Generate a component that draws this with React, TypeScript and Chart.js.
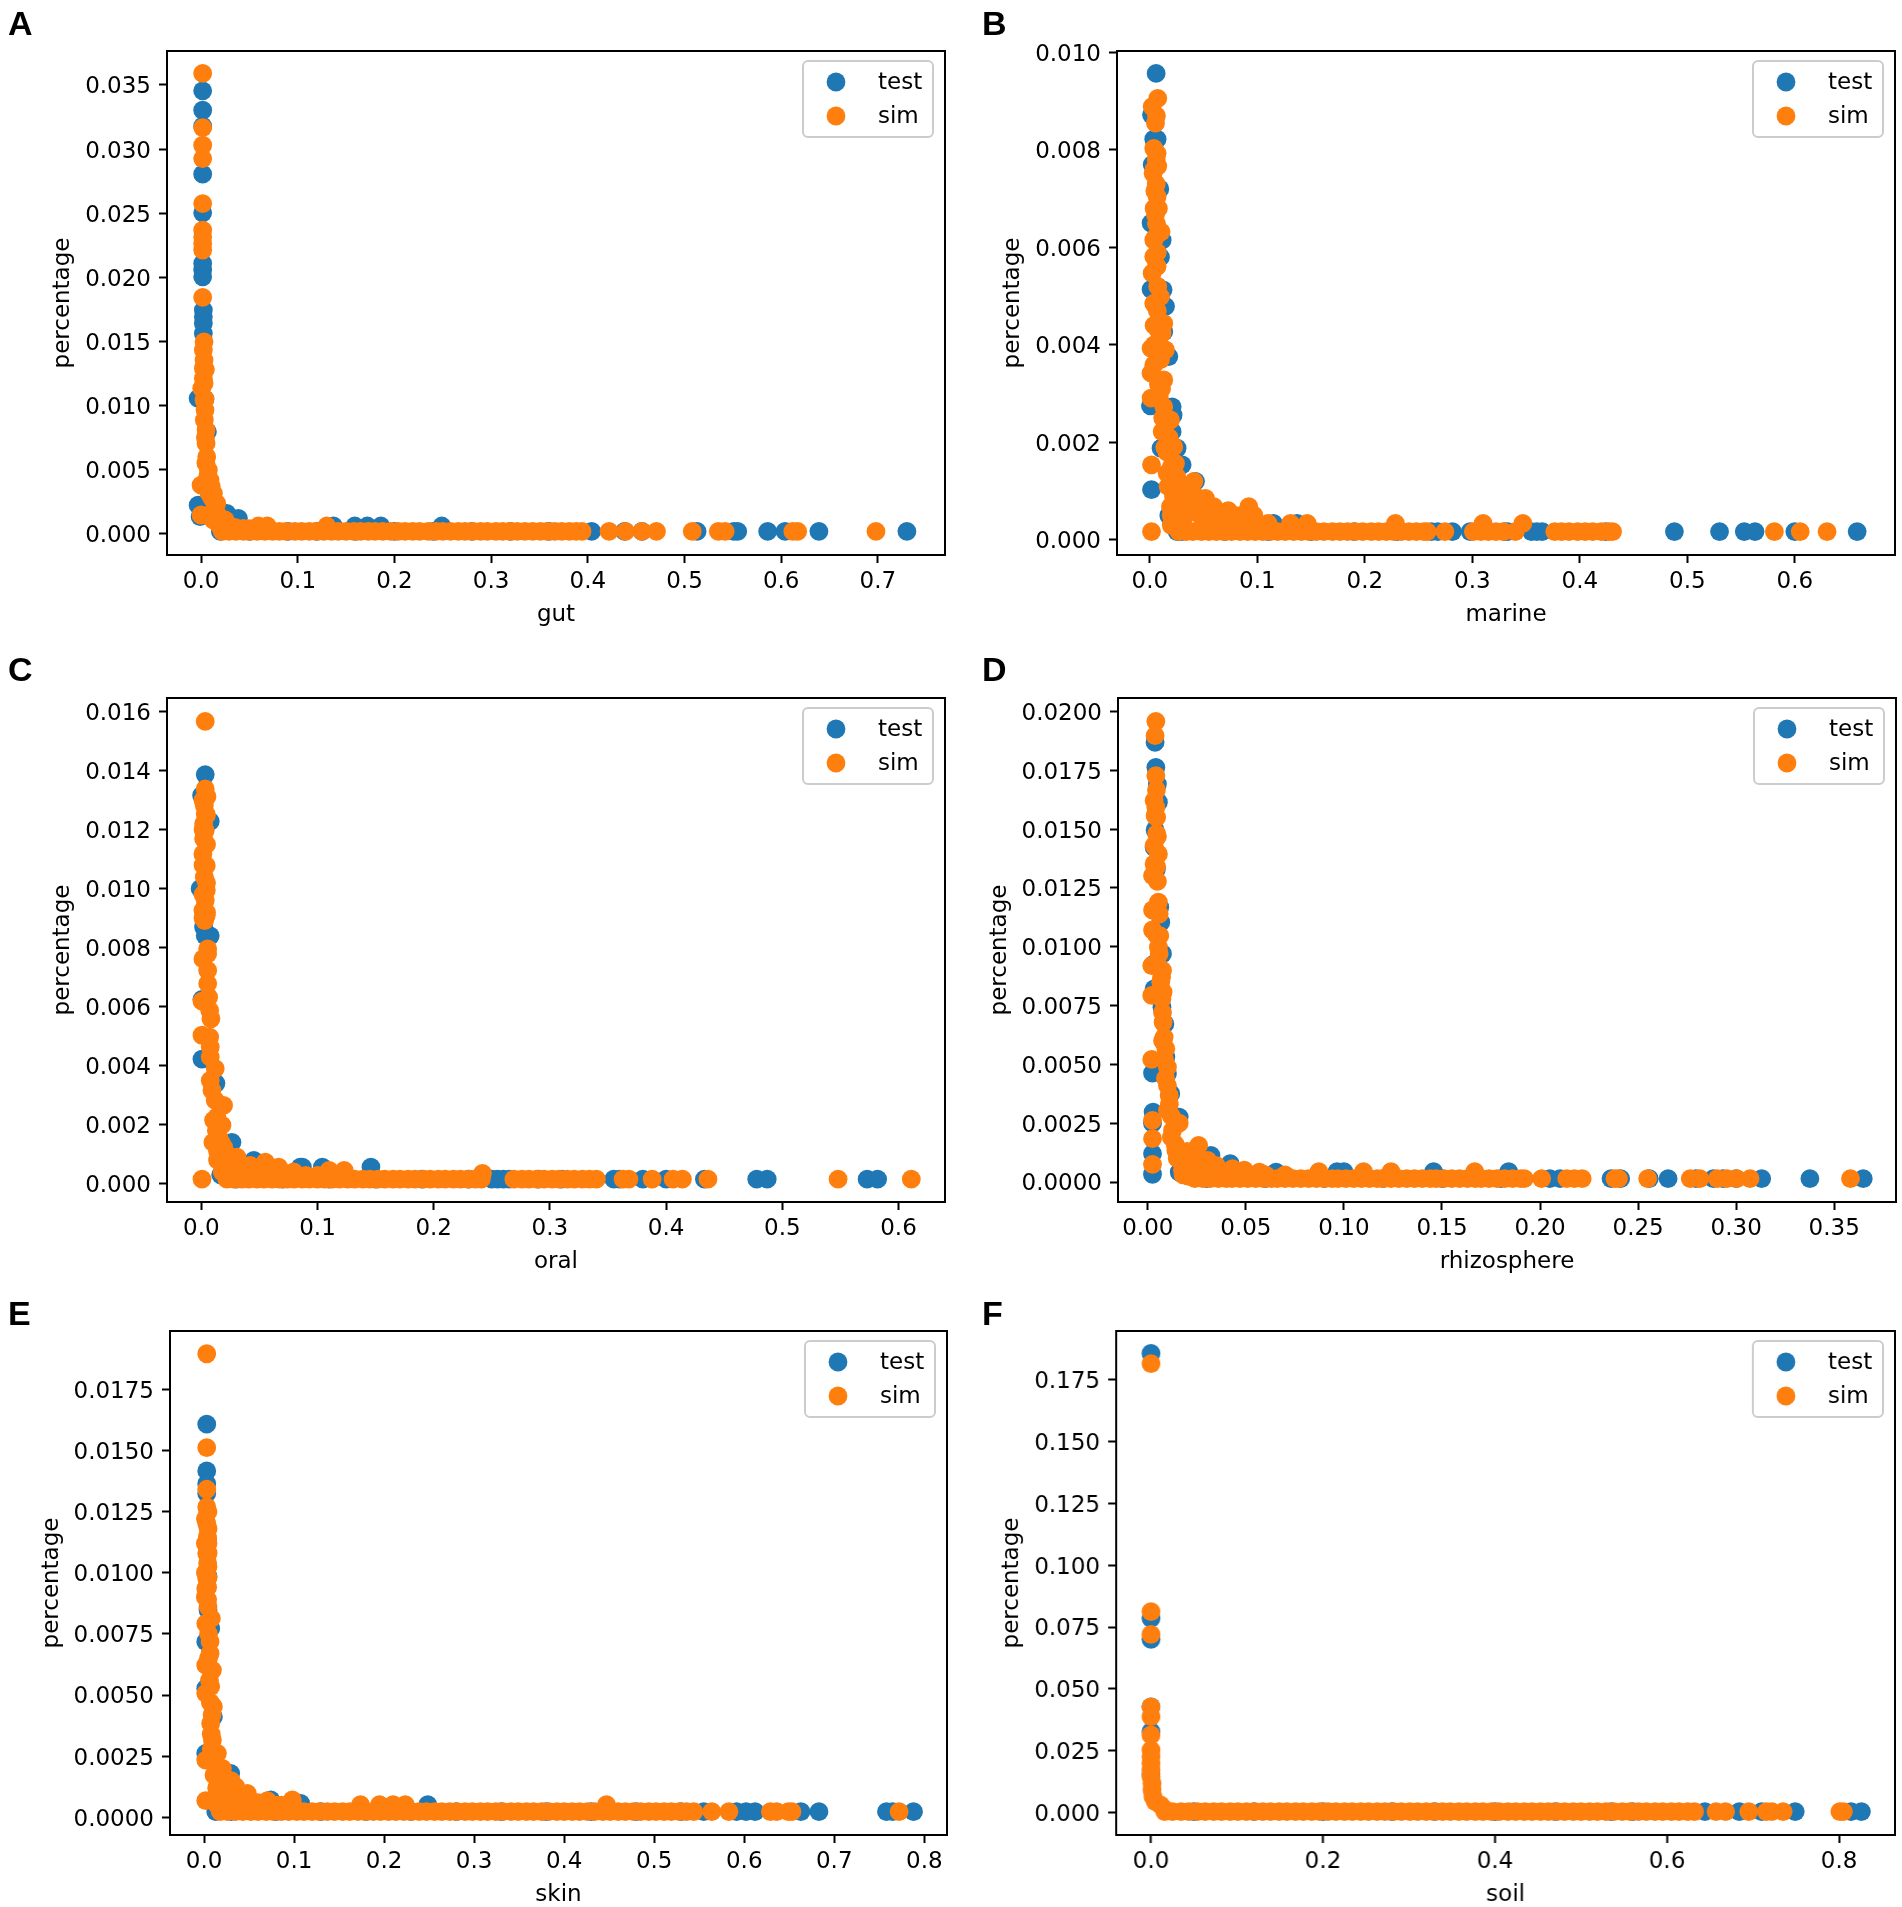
import { useEffect, useRef } from 'react'
import { Chart, registerables } from 'chart.js'

Chart.register(...registerables)

type Pt = [number, number]

const gutTest: Pt[] = [[0.0017,0.03454],[0.0017,0.03303],[0.0017,0.03178],[0.0017,0.02804],[0.0017,0.02503],[0.0017,0.02108],[0.0017,0.02056],[0.0017,0.02004],[0.0024,0.01744],[0.0024,0.01692],[0.0024,0.0164],[0.0024,0.01562],[-0.003,0.01055],[0.0041,0.0105],[0.0066,0.00795],[-0.003,0.00223],[-0.001,0.00133],[0.0266,0.00159],[0.0386,0.0012],[0.137,0.0006],[0.159,0.0006],[0.172,0.0006],[0.186,0.0006],[0.249,0.0006]]
const gutSim: Pt[] = [[0.0017,0.0359],[0.0017,0.03168],[0.0017,0.0303],[0.0017,0.02926],[0.0017,0.02575],[0.0017,0.02367],[0.0017,0.02315],[0.0017,0.02263],[0.0017,0.02212],[0.0017,0.01843],[0.0031,0.01497],[0.0024,0.01432],[0.0031,0.01354],[0.0024,0.01289],[0.0024,0.01211],[0.0007,0.01133],[0.0031,0.01172],[0.0031,0.01042],[0.0041,0.00964],[0.0034,0.00886],[0.0052,0.00808],[0.0052,0.00704],[0.0059,0.006],[0.0076,0.00496],[0.0093,0.00418],[0,0.00379],[0.0128,0.00314],[0.0162,0.00236],[0,0.00146],[0.0162,0.00159],[0.0128,0.00107],[0.0248,0.00107],[0.0197,0.00055],[0.0593,0.0006],[0.0686,0.0006],[0.13,0.0006],[0.0438,0.00042],[0.008,0.0032],[0.011,0.0028],[0.014,0.0019],[0.018,0.0013],[0.022,0.0008],[0.028,0.0007],[0.035,0.0005],[0.05,0.0004],[0.0045,0.0128],[0.004,0.0105],[0.0045,0.0075],[0.005,0.0055],[0.007,0.0045],[0.0105,0.0037],[0.015,0.0012],[0.012,0.0016]]
const gutTestFloor = [0.02,0.05,0.09,0.12,0.16,0.2,0.24,0.28,0.32,0.36,0.404,0.438,0.456,0.513,0.551,0.555,0.586,0.604,0.639,0.73]
const gutSimFloor = [0.022,0.029,0.036,0.044,0.051,0.058,0.066,0.074,0.081,0.088,0.097,0.104,0.112,0.119,0.127,0.135,0.142,0.15,0.158,0.165,0.173,0.18,0.188,0.196,0.204,0.211,0.219,0.226,0.235,0.243,0.25,0.258,0.266,0.273,0.281,0.289,0.296,0.305,0.312,0.32,0.327,0.335,0.343,0.351,0.358,0.366,0.373,0.381,0.388,0.394,0.422,0.439,0.456,0.471,0.508,0.535,0.542,0.612,0.617,0.698]

// B - marine
const marineTest: Pt[] = [[0.0059,0.00957],[0.0016,0.00872],[0.0037,0.00822],[0.0068,0.00822],[0.0022,0.0077],[0.0093,0.0072],[0.0012,0.0065],[0.0115,0.00615],[0.0099,0.0058],[0.0124,0.00513],[0.0012,0.00514],[0.0146,0.00479],[0.013,0.00427],[0.0177,0.00376],[0.0006,0.00275],[0.0208,0.00273],[0.0217,0.00256],[0.0208,0.00222],[0.0254,0.00188],[0.0105,0.00188],[0.0301,0.00154],[0.0016,0.00103],[0.0425,0.0012],[0.0177,0.0005],[0.0254,0.00017],[0.075,0.0005],[0.115,0.00034],[0.137,0.00034]]
const marineSim: Pt[] = [[0.0074,0.00906],[0.0022,0.00889],[0.0062,0.0087],[0.0053,0.00855],[0.0037,0.00803],[0.0068,0.00793],[0.0074,0.00767],[0.0031,0.00752],[0.0047,0.00716],[0.0068,0.00704],[0.0053,0.00667],[0.0062,0.00649],[0.0105,0.00632],[0.0037,0.00615],[0.0037,0.00581],[0.0068,0.00561],[0.0022,0.00547],[0.0074,0.0052],[0.0099,0.00499],[0.0037,0.00485],[0.013,0.00444],[0.0115,0.00424],[0.0012,0.00393],[0.0146,0.0039],[0.0037,0.00359],[0.0012,0.00342],[0.013,0.00328],[0.0012,0.00291],[0.013,0.00273],[0.0192,0.00246],[0.0115,0.00222],[0.0223,0.00191],[0.0016,0.00154],[0.0239,0.00157],[0.0161,0.00137],[0.041,0.0012],[0.0518,0.00085],[0.0595,0.00068],[0.0921,0.00068],[0.0192,0.00068],[0.0016,0.00017],[0.0208,0.00034],[0.0967,0.00051],[0.1309,0.00034],[0.1464,0.00034],[0.2285,0.00034],[0.031,0.00051],[0.047,0.00051],[0.062,0.00051],[0.078,0.00051],[0.31,0.00034],[0.347,0.00034],[0.016,0.0018],[0.02,0.0015],[0.025,0.0013],[0.03,0.0011],[0.017,0.0011],[0.022,0.0009],[0.028,0.0008],[0.035,0.0008],[0.042,0.0009],[0.048,0.0007],[0.02,0.0005],[0.026,0.0005],[0.033,0.0005],[0.04,0.0006],[0.055,0.0005],[0.067,0.00055],[0.073,0.0006],[0.085,0.0005],[0.02,0.0003],[0.014,0.0022],[0.012,0.0025],[0.014,0.0019],[0.018,0.0021],[0.008,0.0043],[0.01,0.0037],[0.008,0.0032],[0.009,0.0029],[0.011,0.0031],[0.006,0.0056],[0.005,0.0062],[0.007,0.0059],[0.004,0.0068],[0.006,0.0073],[0.004,0.0076],[0.006,0.0078],[0.008,0.0068],[0.007,0.0047],[0.004,0.0044],[0.004,0.004],[0.009,0.004],[0.05,0.00034],[0.06,0.00034],[0.07,0.00034],[0.08,0.00034],[0.09,0.00034],[0.1,0.00034],[0.11,0.00034]]
const marineTestFloor = [0.03,0.07,0.11,0.15,0.19,0.23,0.262,0.268,0.2815,0.298,0.33,0.333,0.355,0.36,0.365,0.424,0.488,0.53,0.553,0.563,0.6,0.658]
const marineSimFloor = [0.027,0.034,0.04,0.048,0.055,0.062,0.069,0.076,0.084,0.091,0.098,0.105,0.112,0.119,0.126,0.134,0.141,0.148,0.155,0.162,0.17,0.177,0.184,0.191,0.198,0.206,0.213,0.22,0.227,0.234,0.241,0.248,0.255,0.258,0.2745,0.301,0.308,0.315,0.322,0.329,0.34,0.3767,0.383,0.39,0.398,0.405,0.412,0.42,0.427,0.4305,0.581,0.605,0.63]

// C - oral
const oralTest: Pt[] = [[0.0034,0.01387],[0.0003,0.01316],[0.0077,0.01228],[-0.001,0.01],[0.002,0.0087],[0.0034,0.0084],[0.0077,0.0084],[0.0006,0.00625],[0.0006,0.00422],[0.0126,0.0034],[0.0264,0.0014],[0.0264,0.00085],[0.0452,0.00079],[0.0852,0.00056],[0.1042,0.00056],[0.146,0.00056],[0.087,0.00056],[0.0167,0.0003]]
const oralSim: Pt[] = [[0.0034,0.01567],[0.0034,0.01338],[0.0049,0.01312],[0.0026,0.01282],[0.0034,0.01254],[0.002,0.0122],[0.0034,0.01197],[0.002,0.01169],[0.0014,0.01118],[0.0043,0.01078],[0.0026,0.01039],[0.0043,0.00994],[0.0034,0.0096],[0.0014,0.00926],[0.0043,0.00909],[0.0029,0.00892],[0.0055,0.00796],[0.0055,0.00779],[0.0014,0.00762],[0.0055,0.00723],[0.0055,0.00678],[0.0063,0.00632],[0.0006,0.00619],[0.0072,0.00587],[0.0083,0.00559],[0.0006,0.00503],[0.0072,0.00497],[0.0077,0.00463],[0.012,0.0039],[0.0077,0.00429],[0.0077,0.0035],[0.0092,0.00316],[0.012,0.00282],[0.0192,0.00265],[0.0135,0.00226],[0.0178,0.00198],[0.0106,0.00215],[0.0149,0.00158],[0.0192,0.00124],[0.0164,0.0009],[0.0307,0.0009],[0.0422,0.00062],[0.0551,0.00073],[0.0666,0.00056],[0.0278,0.00056],[0.0795,0.0004],[0.0006,0.00015],[0.11,0.00045],[0.123,0.00045],[0.242,0.00035],[0.013,0.0018],[0.017,0.0014],[0.022,0.001],[0.014,0.0011],[0.01,0.0014],[0.014,0.0008],[0.018,0.0004],[0.025,0.0006],[0.035,0.0005],[0.05,0.0005],[0.06,0.0005],[0.03,0.0003],[0.04,0.0003],[0.05,0.0003],[0.06,0.0003],[0.07,0.0003],[0.08,0.0003],[0.09,0.00028],[0.1,0.00028],[0.0015,0.013],[0.0045,0.0125],[0.0015,0.012],[0.0045,0.0115],[0.0015,0.0108],[0.0045,0.0102],[0.0015,0.0098],[0.0045,0.0092],[0.0015,0.009]]
const oralTestFloor = [0.03,0.07,0.11,0.15,0.19,0.23,0.25,0.255,0.26,0.265,0.29,0.31,0.355,0.36,0.38,0.4,0.433,0.478,0.487,0.573,0.582]
const oralSimFloor = [0.022,0.028,0.035,0.041,0.048,0.054,0.061,0.067,0.074,0.08,0.087,0.093,0.1,0.106,0.113,0.119,0.126,0.132,0.139,0.145,0.152,0.158,0.165,0.171,0.178,0.184,0.191,0.197,0.204,0.21,0.217,0.223,0.23,0.236,0.241,0.269,0.276,0.282,0.289,0.295,0.302,0.308,0.315,0.321,0.328,0.334,0.34,0.363,0.368,0.388,0.406,0.414,0.436,0.548,0.611]

// D - rhizosphere
const rhizoTest: Pt[] = [[0.0037,0.01868],[0.0041,0.01762],[0.0049,0.01691],[0.0054,0.01614],[0.0037,0.01496],[0.0032,0.01422],[0.0044,0.0133],[0.0061,0.01168],[0.0066,0.01104],[0.0075,0.0097],[0.0032,0.00927],[0.0032,0.00821],[0.0072,0.00743],[0.0087,0.00672],[0.0092,0.00531],[0.0024,0.00463],[0.01,0.0046],[0.0117,0.00375],[0.0027,0.00297],[0.016,0.00276],[0.0024,0.0025],[0.0024,0.0012],[0.0024,0.00033],[0.0322,0.00113],[0.042,0.00078],[0.016,0.00042],[0.0654,0.00042],[0.0965,0.00044],[0.1,0.00044],[0.1457,0.00044],[0.184,0.00044]]
const rhizoSim: Pt[] = [[0.0041,0.01958],[0.0037,0.01897],[0.0041,0.01727],[0.0044,0.01666],[0.0032,0.01621],[0.0041,0.01592],[0.0037,0.01557],[0.0049,0.01468],[0.0032,0.0143],[0.0054,0.01394],[0.0032,0.01352],[0.0024,0.01302],[0.0049,0.01278],[0.0054,0.01189],[0.0024,0.01156],[0.0058,0.01139],[0.0024,0.01071],[0.0061,0.01047],[0.0054,0.00998],[0.0058,0.0097],[0.002,0.0092],[0.0075,0.00899],[0.0066,0.00849],[0.0078,0.00807],[0.002,0.00793],[0.0072,0.00778],[0.0078,0.00679],[0.0083,0.00616],[0.0092,0.00566],[0.002,0.00521],[0.01,0.00488],[0.01,0.0041],[0.0109,0.00368],[0.01,0.00304],[0.0024,0.00262],[0.016,0.0025],[0.0126,0.00219],[0.0024,0.00184],[0.0259,0.00156],[0.0143,0.00134],[0.0305,0.00092],[0.0024,0.00075],[0.0432,0.00057],[0.0177,0.0005],[0.0492,0.0005],[0.0569,0.00042],[0.0205,0.00025],[0.022,0.0007],[0.0872,0.00044],[0.11,0.00044],[0.124,0.00044],[0.1667,0.00044],[0.012,0.0019],[0.014,0.0016],[0.015,0.001],[0.018,0.0009],[0.02,0.0013],[0.024,0.0011],[0.028,0.0008],[0.035,0.0007],[0.018,0.0003],[0.022,0.0004],[0.04,0.0004],[0.012,0.0028],[0.011,0.0033],[0.009,0.0044],[0.0085,0.0052],[0.0075,0.0072],[0.007,0.0087],[0.006,0.0091],[0.0045,0.0105],[0.0045,0.0134],[0.0045,0.0148],[0.0045,0.0155],[0.0075,0.006],[0.03,0.0004],[0.036,0.0004],[0.045,0.00035],[0.05,0.0003],[0.06,0.0003],[0.07,0.0003]]
const rhizoTestFloor = [0.03,0.06,0.09,0.12,0.15,0.18,0.205,0.2102,0.2362,0.2411,0.2557,0.2653,0.2795,0.2884,0.2933,0.3,0.313,0.3376,0.3648]
const rhizoSimFloor = [0.024,0.028,0.032,0.036,0.04,0.043,0.047,0.051,0.055,0.059,0.063,0.066,0.07,0.074,0.078,0.082,0.086,0.09,0.094,0.097,0.101,0.105,0.109,0.113,0.117,0.12,0.124,0.128,0.132,0.136,0.14,0.144,0.147,0.151,0.155,0.159,0.163,0.167,0.17,0.174,0.178,0.182,0.186,0.19,0.192,0.2008,0.2136,0.2175,0.2215,0.2382,0.24,0.2549,0.2766,0.2815,0.2904,0.2953,0.3002,0.3071,0.3583]

// E - skin
const skinTest: Pt[] = [[0.003,0.01607],[0.003,0.01416],[0.003,0.01364],[0.003,0.01324],[0.0037,0.0113],[0.0044,0.00985],[0.0044,0.00847],[0.0074,0.00772],[0.0019,0.00718],[0.0104,0.00411],[0.0019,0.00527],[0.0019,0.00261],[0.0296,0.0018],[0.013,0.00023],[0.0741,0.00071],[0.1074,0.00057],[0.2485,0.00052]]
const skinSim: Pt[] = [[0.003,0.01895],[0.003,0.01511],[0.003,0.01341],[0.003,0.01269],[0.0044,0.01249],[0.003,0.01201],[0.0037,0.01147],[0.0044,0.01119],[0.003,0.01078],[0.0044,0.01024],[0.003,0.00976],[0.0019,0.00935],[0.0044,0.00861],[0.0019,0.00792],[0.0081,0.00813],[0.0067,0.00718],[0.0019,0.00622],[0.0093,0.00602],[0.0067,0.0067],[0.0019,0.00507],[0.0074,0.00534],[0.0104,0.00452],[0.0074,0.00384],[0.0093,0.00316],[0.0019,0.00234],[0.0148,0.00261],[0.0204,0.002],[0.0111,0.00173],[0.0352,0.00125],[0.0481,0.00098],[0.0019,0.00068],[0.0704,0.00068],[0.0981,0.00071],[0.0222,0.00057],[0.03,0.0008],[0.086,0.0005],[0.1738,0.00052],[0.1949,0.00052],[0.21,0.00052],[0.2235,0.00052],[0.447,0.00052],[0.012,0.0022],[0.016,0.0016],[0.014,0.0012],[0.02,0.0014],[0.025,0.0012],[0.03,0.0015],[0.018,0.0008],[0.025,0.0007],[0.035,0.0007],[0.042,0.0008],[0.05,0.0006],[0.06,0.0006],[0.015,0.0005],[0.08,0.0005],[0.008,0.0028],[0.008,0.0034],[0.009,0.0042],[0.007,0.0047],[0.006,0.0056],[0.005,0.0065],[0.005,0.0075],[0.004,0.0089],[0.004,0.0094],[0.004,0.0104],[0.004,0.0114],[0.03,0.0005],[0.04,0.0005],[0.05,0.0004],[0.06,0.0004],[0.07,0.0004],[0.08,0.0004],[0.09,0.0004],[0.1,0.0004],[0.0015,0.0122],[0.0045,0.0118],[0.0015,0.0112],[0.0045,0.0108],[0.0015,0.01],[0.0045,0.0098],[0.0015,0.009]]
const skinTestFloor = [0.03,0.08,0.13,0.18,0.23,0.28,0.33,0.38,0.43,0.48,0.53,0.555,0.5915,0.602,0.612,0.663,0.683,0.758,0.765,0.788]
const skinSimFloor = [0.018,0.026,0.035,0.043,0.052,0.06,0.069,0.077,0.086,0.094,0.103,0.111,0.12,0.128,0.137,0.145,0.154,0.162,0.171,0.179,0.188,0.196,0.205,0.213,0.222,0.23,0.239,0.247,0.256,0.264,0.273,0.281,0.29,0.298,0.307,0.315,0.324,0.332,0.341,0.349,0.358,0.366,0.375,0.383,0.392,0.4,0.409,0.417,0.426,0.434,0.443,0.451,0.46,0.468,0.477,0.485,0.494,0.502,0.511,0.519,0.528,0.536,0.544,0.564,0.583,0.629,0.636,0.649,0.653,0.772]

// F - soil
const soilTest: Pt[] = [[0,0.1857],[0,0.0785],[0,0.07],[0,0.0427],[0,0.0326],[0,0.0155]]
const soilSim: Pt[] = [[0,0.1816],[0,0.0812],[0,0.072],[0,0.0427],[0,0.0387],[0,0.0313],[0,0.0252],[0,0.0225],[0,0.0198],[0,0.0171],[0,0.0144],[0.0012,0.0117],[0.0012,0.009],[0.0023,0.0063],[0.005,0.0043],[0.0109,0.003],[0.0147,0.0016]]
const soilTestFloor = [0.05,0.12,0.2,0.28,0.33,0.4,0.47,0.535,0.56,0.644,0.684,0.71,0.749,0.814,0.826]
const soilSimFloor = [0.016,0.025,0.035,0.044,0.054,0.063,0.073,0.082,0.092,0.101,0.111,0.12,0.13,0.139,0.149,0.158,0.168,0.177,0.187,0.196,0.206,0.215,0.225,0.234,0.244,0.253,0.263,0.272,0.282,0.291,0.301,0.31,0.32,0.329,0.339,0.348,0.358,0.367,0.377,0.386,0.396,0.405,0.415,0.424,0.434,0.443,0.453,0.462,0.472,0.481,0.491,0.5,0.51,0.519,0.529,0.538,0.548,0.557,0.567,0.576,0.586,0.595,0.605,0.614,0.624,0.632,0.657,0.668,0.695,0.7155,0.722,0.735,0.801,0.805]

// plot rectangle in page pixels, axis limits and tick setup per panel
const panels = [
  { tag: 'A', name: 'gut', test: gutTest, sim: gutSim, testFloor: gutTestFloor, simFloor: gutSimFloor, floorY: 0.00018,
    box: [167, 51, 945, 555], xLim: [-0.0352, 0.7694], yLim: [-0.00166, 0.03765], xStep: 0.1, yStep: 0.005, xDec: 1, yDec: 3, tagAt: [8, 6], titlePad: 22 },
  { tag: 'B', name: 'marine', test: marineTest, sim: marineSim, testFloor: marineTestFloor, simFloor: marineSimFloor, floorY: 0.00017,
    box: [1116.5, 51, 1894.5, 555], xLim: [-0.0305, 0.6932], yLim: [-0.00031, 0.01003], xStep: 0.1, yStep: 0.002, xDec: 1, yDec: 3, tagAt: [982, 6], titlePad: 22 },
  { tag: 'C', name: 'oral', test: oralTest, sim: oralSim, testFloor: oralTestFloor, simFloor: oralSimFloor, floorY: 0.00015,
    box: [167, 697.5, 945, 1201.5], xLim: [-0.0295, 0.64], yLim: [-0.000623, 0.016465], xStep: 0.1, yStep: 0.002, xDec: 1, yDec: 3, tagAt: [8, 652], titlePad: 22 },
  { tag: 'D', name: 'rhizosphere', test: rhizoTest, sim: rhizoSim, testFloor: rhizoTestFloor, simFloor: rhizoSimFloor, floorY: 0.00014,
    box: [1118, 697.5, 1896, 1201.5], xLim: [-0.0152, 0.3815], yLim: [-0.00085, 0.02057], xStep: 0.05, yStep: 0.0025, xDec: 2, yDec: 4, tagAt: [982, 652], titlePad: 8 },
  { tag: 'E', name: 'skin', test: skinTest, sim: skinSim, testFloor: skinTestFloor, simFloor: skinSimFloor, floorY: 0.00023,
    box: [169.5, 1331, 947, 1835], xLim: [-0.0378, 0.8252], yLim: [-0.000723, 0.01988], xStep: 0.1, yStep: 0.0025, xDec: 1, yDec: 4, tagAt: [8, 1296], titlePad: 8 },
  { tag: 'F', name: 'soil', test: soilTest, sim: soilSim, testFloor: soilTestFloor, simFloor: soilSimFloor, floorY: 0.0003,
    box: [1116, 1331, 1894.5, 1835], xLim: [-0.0405, 0.8651], yLim: [-0.00918, 0.1948], xStep: 0.2, yStep: 0.025, xDec: 1, yDec: 3, tagAt: [982, 1296], titlePad: 22 },
]

const BLUE = '#1f77b4'
const ORANGE = '#ff7f0e'
const FONT = 'DejaVu Sans'
const FONT_SIZE = 23
const RADIUS = 9.4
const GUTTER = 140 // space left of the plot
const HEAD = 24 // space above the plot, the top tick label of B needs it
const FOOT = 80 // space under the plot

// matplotlib frame and legend box, chart.js has neither
const framePlugin = {
  id: 'frame',
  afterDraw(chart: Chart) {
    const { ctx, chartArea: a } = chart
    ctx.save()
    ctx.strokeStyle = '#000'
    ctx.lineWidth = 2
    ctx.strokeRect(a.left, a.top, a.right - a.left, a.bottom - a.top)

    const lx = a.right - 142, ly = a.top + 10
    ctx.beginPath()
    ctx.roundRect(lx, ly, 130, 76, 5)
    ctx.fillStyle = 'rgba(255,255,255,0.8)'
    ctx.fill()
    ctx.strokeStyle = '#ccc'
    ctx.stroke()
    ctx.font = `${FONT_SIZE}px "${FONT}"`
    ctx.textBaseline = 'middle'
    chart.data.datasets.forEach((d: any, i: number) => {
      const y = ly + 21 + i * 34
      ctx.fillStyle = d.backgroundColor
      ctx.beginPath()
      ctx.arc(lx + 33, y, RADIUS, 0, Math.PI * 2)
      ctx.fill()
      ctx.fillStyle = '#000'
      ctx.fillText(d.label, lx + 75, y + 1)
    })
    ctx.restore()
  },
}

function Panel({ p }: { p: (typeof panels)[number] }) {
  const ref = useRef<HTMLCanvasElement>(null)
  const [left, top, right, bottom] = p.box
  const width = GUTTER + (right - left) + 8
  const height = HEAD + (bottom - top) + FOOT

  useEffect(() => {
    if (!ref.current) return
    const toXY = (pts: Pt[], floor: number[]) => [
      ...floor.map(x => ({ x, y: p.floorY })),
      ...pts.map(([x, y]) => ({ x, y })),
    ]
    const axisFont = { family: FONT, size: FONT_SIZE }
    const grid = { drawOnChartArea: false, drawTicks: true, tickLength: 8, tickWidth: 2, tickColor: '#000' }
    const chart = new Chart(ref.current, {
      type: 'scatter',
      data: {
        datasets: [
          { label: 'test', data: toXY(p.test, p.testFloor), backgroundColor: BLUE, order: 2 },
          { label: 'sim', data: toXY(p.sim, p.simFloor), backgroundColor: ORANGE, order: 1 },
        ],
      },
      options: {
        responsive: false,
        animation: false,
        devicePixelRatio: 1,
        layout: { autoPadding: false, padding: { top: HEAD, right: 8, left: 0, bottom: 0 } },
        elements: { point: { radius: RADIUS, borderWidth: 0, hoverRadius: RADIUS } },
        plugins: { legend: { display: false }, tooltip: { enabled: false } },
        events: [],
        scales: {
          x: {
            type: 'linear', min: p.xLim[0], max: p.xLim[1],
            afterFit: (s: any) => { s.height = FOOT; s.paddingLeft = 0; s.paddingRight = 0 },
            border: { display: false },
            grid,
            ticks: {
              stepSize: p.xStep, includeBounds: false, autoSkip: false, maxRotation: 0, color: '#000', padding: 5, font: axisFont,
              callback: (v: any) => Math.abs(Number(v)).toFixed(p.xDec),
            },
            title: { display: true, text: p.name, color: '#000', font: axisFont, padding: { top: 0, bottom: 6.5 } },
          },
          y: {
            type: 'linear', min: p.yLim[0], max: p.yLim[1],
            afterFit: (s: any) => { s.width = GUTTER; s.paddingTop = 0; s.paddingBottom = 0 },
            border: { display: false },
            grid,
            ticks: {
              stepSize: p.yStep, includeBounds: false, autoSkip: false, color: '#000', padding: 8,
              // empty first line + tiny line height nudges the label down to where matplotlib centres it
              font: { ...axisFont, lineHeight: '5px' },
              callback: (v: any) => ['', Math.abs(Number(v)).toFixed(p.yDec)],
            },
            title: { display: true, text: 'percentage', color: '#000', font: axisFont, padding: { top: p.titlePad, bottom: 0 } },
          },
        },
      } as any,
      plugins: [framePlugin],
    })
    return () => chart.destroy()
  }, [])

  return (
    <canvas
      ref={ref}
      width={width}
      height={height}
      style={{ position: 'absolute', left: left - GUTTER, top: top - HEAD, width, height }}
    />
  )
}

export default function App() {
  return (
    <div style={{ position: 'absolute', left: 0, top: 0, width: 1902, height: 1907, overflow: 'hidden', background: '#fff' }}>
      {panels.map(p => <Panel key={p.tag} p={p} />)}
      {panels.map(p => (
        <div
          key={p.tag}
          style={{
            position: 'absolute', left: p.tagAt[0], top: p.tagAt[1],
            font: 'bold 34px/1 "Liberation Sans"', color: '#000',
          }}
        >
          {p.tag}
        </div>
      ))}
    </div>
  )
}
